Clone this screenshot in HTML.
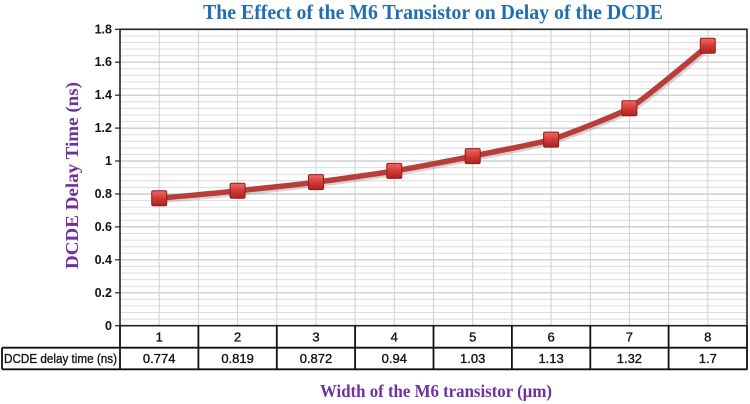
<!DOCTYPE html>
<html>
<head>
<meta charset="utf-8">
<style>
html,body{margin:0;padding:0;background:#fff;}
svg{display:block;}
</style>
</head>
<body>
<svg width="750" height="404" viewBox="0 0 750 404" xmlns="http://www.w3.org/2000/svg">
<defs>
<linearGradient id="mk" x1="0" y1="0" x2="0" y2="1">
<stop offset="0" stop-color="#ef6a64"/>
<stop offset="0.5" stop-color="#d43a35"/>
<stop offset="1" stop-color="#a82420"/>
</linearGradient>
</defs>
<rect width="750" height="404" fill="#fff"/>
<!-- title -->
<text x="203" y="19" font-family="Liberation Serif, serif" font-weight="bold" font-size="21" fill="#1f6db3" textLength="460" lengthAdjust="spacingAndGlyphs">The Effect of the M6 Transistor on Delay of the DCDE</text>

<!-- minor horizontal gridlines -->
<g stroke="#dcdcdc" stroke-width="1">
<line x1="120" x2="747" y1="319.1" y2="319.1"/><line x1="120" x2="747" y1="312.5" y2="312.5"/><line x1="120" x2="747" y1="305.9" y2="305.9"/><line x1="120" x2="747" y1="299.4" y2="299.4"/>
<line x1="120" x2="747" y1="286.2" y2="286.2"/><line x1="120" x2="747" y1="279.6" y2="279.6"/><line x1="120" x2="747" y1="273.0" y2="273.0"/><line x1="120" x2="747" y1="266.4" y2="266.4"/>
<line x1="120" x2="747" y1="253.2" y2="253.2"/><line x1="120" x2="747" y1="246.7" y2="246.7"/><line x1="120" x2="747" y1="240.1" y2="240.1"/><line x1="120" x2="747" y1="233.5" y2="233.5"/>
<line x1="120" x2="747" y1="220.3" y2="220.3"/><line x1="120" x2="747" y1="213.7" y2="213.7"/><line x1="120" x2="747" y1="207.1" y2="207.1"/><line x1="120" x2="747" y1="200.6" y2="200.6"/>
<line x1="120" x2="747" y1="187.4" y2="187.4"/><line x1="120" x2="747" y1="180.8" y2="180.8"/><line x1="120" x2="747" y1="174.2" y2="174.2"/><line x1="120" x2="747" y1="167.6" y2="167.6"/>
<line x1="120" x2="747" y1="154.5" y2="154.5"/><line x1="120" x2="747" y1="147.9" y2="147.9"/><line x1="120" x2="747" y1="141.3" y2="141.3"/><line x1="120" x2="747" y1="134.7" y2="134.7"/>
<line x1="120" x2="747" y1="121.5" y2="121.5"/><line x1="120" x2="747" y1="114.9" y2="114.9"/><line x1="120" x2="747" y1="108.4" y2="108.4"/><line x1="120" x2="747" y1="101.8" y2="101.8"/>
<line x1="120" x2="747" y1="88.6" y2="88.6"/><line x1="120" x2="747" y1="82.0" y2="82.0"/><line x1="120" x2="747" y1="75.4" y2="75.4"/><line x1="120" x2="747" y1="68.8" y2="68.8"/>
<line x1="120" x2="747" y1="55.7" y2="55.7"/><line x1="120" x2="747" y1="49.1" y2="49.1"/><line x1="120" x2="747" y1="42.5" y2="42.5"/><line x1="120" x2="747" y1="35.9" y2="35.9"/>
</g>
<!-- major horizontal gridlines -->
<g stroke="#c4c4c4" stroke-width="1.2">
<line x1="120" x2="747" y1="292.8" y2="292.8"/>
<line x1="120" x2="747" y1="259.8" y2="259.8"/>
<line x1="120" x2="747" y1="226.9" y2="226.9"/>
<line x1="120" x2="747" y1="194.0" y2="194.0"/>
<line x1="120" x2="747" y1="161.0" y2="161.0"/>
<line x1="120" x2="747" y1="128.1" y2="128.1"/>
<line x1="120" x2="747" y1="95.2" y2="95.2"/>
<line x1="120" x2="747" y1="62.2" y2="62.2"/>
</g>
<!-- vertical gridlines -->
<g stroke="#cfcfcf" stroke-width="1">
<line y1="29.3" y2="325.7" x1="159.2" x2="159.2"/><line y1="29.3" y2="325.7" x1="198.4" x2="198.4"/>
<line y1="29.3" y2="325.7" x1="237.6" x2="237.6"/><line y1="29.3" y2="325.7" x1="276.8" x2="276.8"/>
<line y1="29.3" y2="325.7" x1="316.0" x2="316.0"/><line y1="29.3" y2="325.7" x1="355.1" x2="355.1"/>
<line y1="29.3" y2="325.7" x1="394.3" x2="394.3"/><line y1="29.3" y2="325.7" x1="433.5" x2="433.5"/>
<line y1="29.3" y2="325.7" x1="472.7" x2="472.7"/><line y1="29.3" y2="325.7" x1="511.9" x2="511.9"/>
<line y1="29.3" y2="325.7" x1="551.1" x2="551.1"/><line y1="29.3" y2="325.7" x1="590.3" x2="590.3"/>
<line y1="29.3" y2="325.7" x1="629.4" x2="629.4"/><line y1="29.3" y2="325.7" x1="668.6" x2="668.6"/>
<line y1="29.3" y2="325.7" x1="707.8" x2="707.8"/>
</g>
<!-- plot border -->
<rect x="120" y="29.3" width="627" height="296.4" fill="none" stroke="#222" stroke-width="1.6"/>
<!-- y ticks -->
<g stroke="#222" stroke-width="1.2">
<line x1="115" x2="120" y1="325.7" y2="325.7"/><line x1="115" x2="120" y1="292.8" y2="292.8"/>
<line x1="115" x2="120" y1="259.8" y2="259.8"/><line x1="115" x2="120" y1="226.9" y2="226.9"/>
<line x1="115" x2="120" y1="194.0" y2="194.0"/><line x1="115" x2="120" y1="161.0" y2="161.0"/>
<line x1="115" x2="120" y1="128.1" y2="128.1"/><line x1="115" x2="120" y1="95.2" y2="95.2"/>
<line x1="115" x2="120" y1="62.2" y2="62.2"/><line x1="115" x2="120" y1="29.3" y2="29.3"/>
</g>
<g font-family="Liberation Sans, sans-serif" font-weight="bold" font-size="12.5" fill="#111" text-anchor="end">
<text x="112" y="330">0</text><text x="112" y="297">0.2</text><text x="112" y="264">0.4</text>
<text x="112" y="231">0.6</text><text x="112" y="198">0.8</text><text x="112" y="165">1</text>
<text x="112" y="132">1.2</text><text x="112" y="99">1.4</text><text x="112" y="66">1.6</text>
<text x="112" y="33.5">1.8</text>
</g>
<!-- y title -->
<text transform="translate(78,175.5) rotate(-90)" text-anchor="middle" font-family="Liberation Serif, serif" font-weight="bold" font-size="17.5" fill="#7030a0" textLength="187" lengthAdjust="spacingAndGlyphs">DCDE Delay Time (ns)</text>

<!-- series line -->
<path d="M159.2,198.2 C167.0,197.5 229.8,191.9 237.6,190.8 C253.3,189.2 308.2,183.7 316.0,182.1 C331.7,180.2 386.5,172.4 394.3,170.9 C410.0,168.4 464.9,158.0 472.7,156.1 C488.4,153.0 543.3,142.0 551.1,139.6 C566.8,134.8 619.6,113.9 629.4,108.3 C645.1,98.9 699.9,52.1 707.8,45.8" fill="none" stroke="#8a8a8a" stroke-opacity="0.35" stroke-width="6" transform="translate(1.5,2)"/>
<path d="M159.2,198.2 C167.0,197.5 229.8,191.9 237.6,190.8 C253.3,189.2 308.2,183.7 316.0,182.1 C331.7,180.2 386.5,172.4 394.3,170.9 C410.0,168.4 464.9,158.0 472.7,156.1 C488.4,153.0 543.3,142.0 551.1,139.6 C566.8,134.8 619.6,113.9 629.4,108.3 C645.1,98.9 699.9,52.1 707.8,45.8" fill="none" stroke="#b93d38" stroke-width="5.5" stroke-linejoin="round" stroke-linecap="round"/>
<!-- markers -->
<g fill="url(#mk)" stroke="#8e1d1a" stroke-width="1">
<rect x="151.7" y="190.7" width="15" height="15" rx="1.5"/>
<rect x="230.1" y="183.3" width="15" height="15" rx="1.5"/>
<rect x="308.5" y="174.6" width="15" height="15" rx="1.5"/>
<rect x="386.8" y="163.4" width="15" height="15" rx="1.5"/>
<rect x="465.2" y="148.6" width="15" height="15" rx="1.5"/>
<rect x="543.6" y="132.1" width="15" height="15" rx="1.5"/>
<rect x="621.9" y="100.8" width="15" height="15" rx="1.5"/>
<rect x="700.3" y="38.3" width="15" height="15" rx="1.5"/>
</g>

<!-- data table -->
<g stroke="#111" stroke-width="1.8" fill="none">
<line x1="120" x2="747.5" y1="347.7" y2="347.7"/>
<line x1="2" x2="747.5" y1="369.3" y2="369.3"/>
<line x1="2" x2="120" y1="347.7" y2="347.7"/>
<line x1="2" x2="2" y1="347.7" y2="369.3"/>
<line x1="120" x2="120" y1="325.7" y2="369.3"/>
<line x1="198.4" x2="198.4" y1="325.7" y2="369.3"/>
<line x1="276.8" x2="276.8" y1="325.7" y2="369.3"/>
<line x1="355.1" x2="355.1" y1="325.7" y2="369.3"/>
<line x1="433.5" x2="433.5" y1="325.7" y2="369.3"/>
<line x1="511.9" x2="511.9" y1="325.7" y2="369.3"/>
<line x1="590.3" x2="590.3" y1="325.7" y2="369.3"/>
<line x1="668.6" x2="668.6" y1="325.7" y2="369.3"/>
<line x1="747" x2="747" y1="325.7" y2="369.3"/>
</g>
<g font-family="Liberation Sans, sans-serif" font-size="13" fill="#111" stroke="#111" stroke-width="0.35" text-anchor="middle">
<text x="159.2" y="341.5">1</text><text x="237.6" y="341.5">2</text><text x="316.0" y="341.5">3</text>
<text x="394.3" y="341.5">4</text><text x="472.7" y="341.5">5</text><text x="551.1" y="341.5">6</text>
<text x="629.4" y="341.5">7</text><text x="707.8" y="341.5">8</text>
<text x="159.2" y="363">0.774</text><text x="237.6" y="363">0.819</text><text x="316.0" y="363">0.872</text>
<text x="394.3" y="363">0.94</text><text x="472.7" y="363">1.03</text><text x="551.1" y="363">1.13</text>
<text x="629.4" y="363">1.32</text><text x="707.8" y="363">1.7</text>
</g>
<text x="4" y="363" font-family="Liberation Sans, sans-serif" font-size="12.5" fill="#111" stroke="#111" stroke-width="0.3" textLength="113" lengthAdjust="spacingAndGlyphs">DCDE delay time (ns)</text>

<!-- x title -->
<text x="320" y="397" font-family="Liberation Serif, serif" font-weight="bold" font-size="18" fill="#7030a0" textLength="232" lengthAdjust="spacingAndGlyphs">Width of the M6 transistor (µm)</text>
</svg>
</body>
</html>
